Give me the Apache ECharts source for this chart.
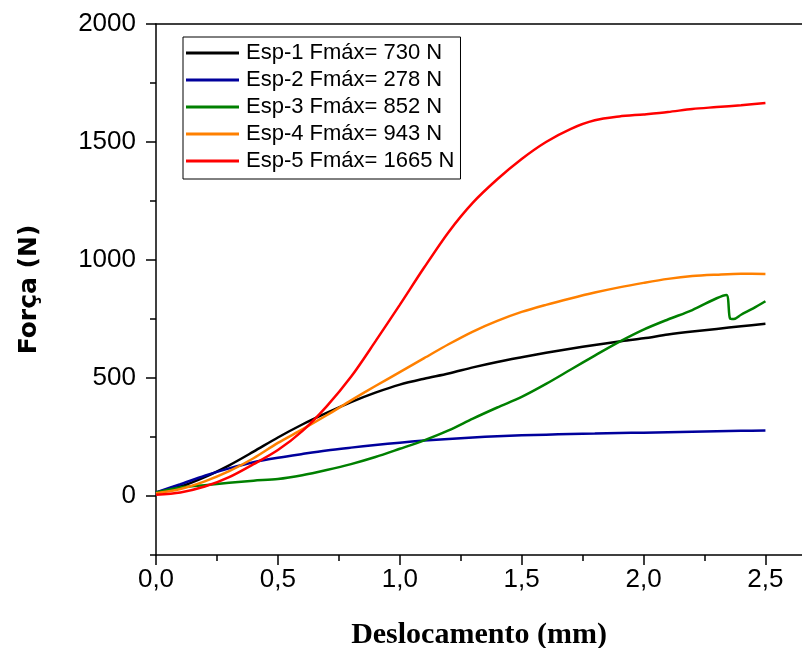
<!DOCTYPE html>
<html>
<head>
<meta charset="utf-8">
<title>Força x Deslocamento</title>
<script src="https://cdn.jsdelivr.net/npm/echarts@6/dist/echarts.min.js"></script>
<style>
  html, body { margin: 0; padding: 0; background: #fff; }
  #chart { width: 802px; height: 648px; }
</style>
</head>
<body>
<div id="chart"></div>
<script>
// deslocamento (mm) comum aos ensaios 1, 2, 4 e 5
const xs = [0, 0.1, 0.2, 0.3, 0.4, 0.5, 0.6, 0.7, 0.8, 0.9, 1.0, 1.1, 1.2, 1.3, 1.4, 1.5, 1.6, 1.7, 1.8, 1.9, 2.0, 2.1, 2.2, 2.3, 2.4, 2.5]

const esp1 = [15, 40, 80, 130, 188, 248, 303, 352, 398, 438, 472, 497, 519, 545, 568, 588, 607, 624, 640, 655, 668, 684, 697, 708, 719, 730]
const esp2 = [15, 50, 86, 117, 143, 162, 178, 193, 205, 216, 226, 235, 242, 248, 253, 257, 260, 263, 265, 267, 268, 270, 272, 274, 276, 278]
const esp4 = [12, 30, 62, 105, 160, 225, 282, 342, 405, 466, 525, 584, 643, 697, 742, 780, 810, 837, 862, 884, 903, 920, 932, 938, 942, 941]
const esp5 = [5, 15, 40, 80, 135, 195, 275, 380, 505, 655, 810, 968, 1118, 1243, 1342, 1428, 1500, 1555, 1592, 1608, 1617, 1627, 1640, 1648, 1656, 1665]

// ensaio 3 tem a queda perto de 2,35 mm
const xs3 = [0, 0.1, 0.2, 0.3, 0.4, 0.5, 0.6, 0.7, 0.8, 0.9, 1.0, 1.1, 1.2, 1.3, 1.4, 1.5, 1.6, 1.7, 1.8, 1.9, 2.0, 2.1, 2.2, 2.3, 2.34, 2.355, 2.37, 2.4, 2.45, 2.5]
const esp3 = [15, 36, 46, 56, 65, 72, 88, 110, 135, 165, 200, 236, 278, 328, 375, 420, 475, 535, 595, 653, 705, 748, 788, 838, 852, 752, 750, 768, 795, 825]

const names = ['Esp-1 Fmáx= 730 N', 'Esp-2 Fmáx= 278 N', 'Esp-3 Fmáx= 852 N', 'Esp-4 Fmáx= 943 N', 'Esp-5 Fmáx= 1665 N']
const colors = ['#000000', '#00009c', '#008000', '#ff8000', '#ff0000']

const yMajor = [0, 500, 1000, 1500, 2000]
const yMinor = [-250, 250, 750, 1250, 1750]
const xMajor = [0, 0.5, 1.0, 1.5, 2.0, 2.5]
const xMinor = [0.25, 0.75, 1.25, 1.75, 2.25]

function pares(x, y) {
  return x.map((v, i) => [v, y[i]])
}

const chart = echarts.init(document.getElementById('chart'))

const tickFont = { fontFamily: 'Liberation Sans', fontSize: 26, color: '#000' }
const eixo = { onZero: false, lineStyle: { color: '#000', width: 1.5 } }
const semLinha = { show: false, onZero: false }

const dados = [pares(xs, esp1), pares(xs, esp2), pares(xs3, esp3), pares(xs, esp4), pares(xs, esp5)]

chart.setOption({
  animation: false,
  backgroundColor: '#fff',
  grid: { left: 156, top: 24, right: 0, bottom: 93, outerBoundsMode: 'none' },
  legend: {
    left: 183,
    top: 37,
    orient: 'vertical',
    data: names.map(n => ({ name: n, icon: 'rect' })),
    itemWidth: 53,
    itemHeight: 3,
    itemGap: 3,
    padding: [4, 6, 6, 3],
    backgroundColor: '#fff',
    borderColor: '#000',
    borderWidth: 1,
    textStyle: { fontFamily: 'Liberation Sans', fontSize: 22, color: '#000', lineHeight: 24, padding: [0, 0, 0, 2] }
  },
  xAxis: [
    {
      type: 'value', min: 0, max: 2.65,
      name: 'Deslocamento (mm)', nameLocation: 'middle', nameGap: 65,
      nameTextStyle: { fontFamily: 'Liberation Serif', fontWeight: 'bold', fontSize: 30, color: '#000' },
      axisLine: eixo,
      axisTick: { customValues: xMajor, length: 10, lineStyle: { color: '#000', width: 1.5 } },
      axisLabel: Object.assign({ customValues: xMajor, margin: 12, formatter: v => v.toFixed(1).replace('.', ',') }, tickFont),
      splitLine: { show: false }
    },
    {
      type: 'value', min: 0, max: 2.65, position: 'bottom',
      axisLine: semLinha,
      axisTick: { customValues: xMinor, length: 6, lineStyle: { color: '#000', width: 1.5 } },
      axisLabel: { show: false },
      splitLine: { show: false }
    },
    {
      type: 'value', min: 0, max: 2.65, position: 'top',
      axisLine: eixo,
      axisTick: { show: false },
      axisLabel: { show: false },
      splitLine: { show: false }
    }
  ],
  yAxis: [
    {
      type: 'value', min: -250, max: 2000, position: 'left',
      name: 'Força (N)', nameLocation: 'middle', nameGap: 114,
      nameTextStyle: { fontFamily: 'DejaVu Sans', fontWeight: 'bold', fontSize: 25, color: '#000' },
      axisLine: eixo,
      axisTick: { customValues: yMajor, length: 10, lineStyle: { color: '#000', width: 1.5 } },
      axisLabel: Object.assign({ customValues: yMajor, margin: 20, formatter: v => String(v) }, tickFont),
      splitLine: { show: false }
    },
    {
      type: 'value', min: -250, max: 2000, position: 'left',
      axisLine: semLinha,
      axisTick: { customValues: yMinor, length: 6, lineStyle: { color: '#000', width: 1.5 } },
      axisLabel: { show: false },
      splitLine: { show: false }
    }
  ],
  series: names.map((n, i) => ({
    name: n,
    type: 'line',
    data: dados[i],
    symbol: 'none',
    smooth: 0.3,
    lineStyle: { color: colors[i], width: 2.5 },
    itemStyle: { color: colors[i] }
  }))
})
</script>
</body>
</html>
